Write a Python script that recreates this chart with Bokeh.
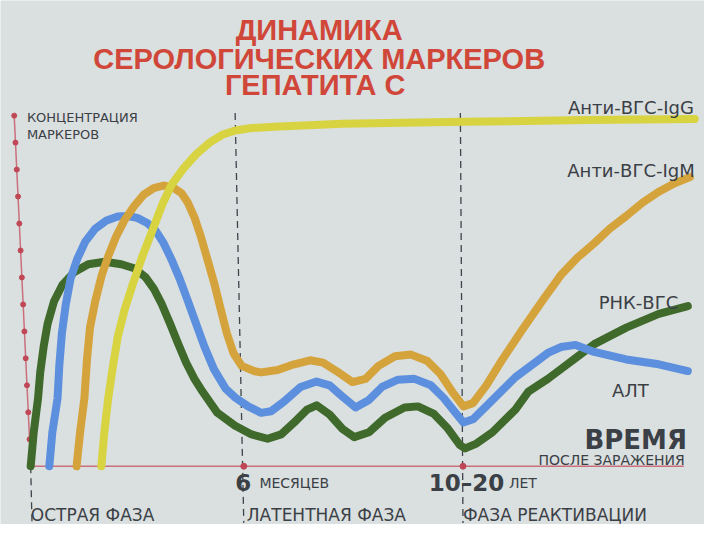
from bokeh.plotting import figure
from bokeh.models import Range1d, Label
from bokeh.embed import file_html
from bokeh.resources import INLINE

# Time axis in arbitrary units: 0 = infection, ~49 = 6 months, 100 = 10-20 years
# Concentration axis in tick units (0..13)

# Anti-HCV IgG (yellow)
igg_t = [16.5, 17.2, 18.1, 19.2, 20.3, 21.8, 23.7, 26.0, 28.6, 30.7, 32.7, 35.4, 38.4, 41.4, 44.4, 47.4, 51.2,
         56.4, 72.2, 100.0, 128.7, 153.5]
igg_c = [0.0, 1.26, 2.52, 3.72, 4.80, 5.76, 6.72, 7.79, 8.87, 9.75, 10.43, 11.03, 11.57, 11.99, 12.29, 12.45, 12.54,
         12.59, 12.70, 12.77, 12.84, 12.88]

# Anti-HCV IgM (orange)
igm_t = [10.8, 11.6, 12.6, 13.2, 13.9, 15.1, 16.6, 18.1, 19.9, 21.8, 24.1, 26.3, 28.6, 30.9, 33.1, 35.0, 36.5,
         38.0, 39.5, 41.0, 42.5, 44.0, 45.5, 47.0, 48.9, 51.9, 53.4, 57.2, 61.0, 64.7, 67.7, 70.7, 74.5, 77.5,
         80.5, 84.3, 88.0, 91.8, 94.8, 97.8, 100.1, 102.3, 105.4, 109.1, 113.6, 118.7, 122.6, 126.4, 130.3,
         133.9, 137.7, 141.5, 145.2, 149.0, 152.4]
igm_c = [0.0, 1.26, 2.52, 3.96, 5.15, 6.12, 7.08, 7.79, 8.51, 9.11, 9.65, 10.07, 10.31, 10.41, 10.33, 10.13, 9.77,
         9.23, 8.51, 7.67, 6.83, 5.87, 4.92, 4.20, 3.72, 3.52, 3.48, 3.57, 3.78, 3.93, 3.84, 3.54, 3.12, 3.24,
         3.72, 4.08, 4.14, 3.90, 3.42, 2.70, 2.22, 2.34, 3.00, 3.96, 5.04, 6.22, 7.09, 7.73, 8.27,
         8.81, 9.28, 9.78, 10.18, 10.50, 10.72]

# ALT (blue)
alt_t = [4.5, 5.2, 6.4, 6.8, 7.4, 8.3, 9.4, 10.9, 12.8, 15.1, 17.7, 20.3, 22.6, 24.8, 27.1, 29.0, 30.9, 32.7,
         34.6, 36.5, 38.4, 40.3, 42.5, 45.2, 47.4, 50.4, 53.4, 55.7, 58.7, 62.5, 66.2, 69.2, 72.2, 75.2, 78.3,
         81.3, 85.0, 88.8, 92.6, 95.6, 98.6, 100.1, 102.3, 106.1, 112.1, 116.6, 119.6, 122.6, 126.0, 130.3,
         137.7, 145.2, 151.9]
alt_c = [0.0, 1.26, 2.52, 3.72, 4.92, 6.00, 6.95, 7.67, 8.33, 8.81, 9.11, 9.26, 9.28, 9.21, 9.02, 8.75, 8.27, 7.67,
         6.95, 6.12, 5.28, 4.44, 3.60, 2.88, 2.55, 2.22, 1.98, 2.04, 2.40, 2.94, 3.14, 3.00, 2.58, 2.18, 2.46,
         2.94, 3.21, 3.24, 3.00, 2.52, 1.92, 1.62, 1.74, 2.34, 3.30, 3.84, 4.20, 4.42, 4.50, 4.24,
         3.96, 3.78, 3.53]

# HCV RNA (green)
rna_t = [0.2, 0.9, 1.9, 2.4, 3.2, 4.1, 5.6, 7.5, 10.2, 13.5, 17.3, 21.1, 24.1, 26.7, 28.6, 30.5, 32.4, 34.2,
         36.1, 38.0, 39.9, 43.3, 47.4, 51.2, 54.9, 58.0, 61.0, 64.0, 66.2, 69.2, 72.2, 74.9, 78.3, 82.0, 86.5,
         89.6, 93.3, 96.3, 99.3, 100.5, 103.1, 106.8, 112.1, 115.1, 119.6, 122.6, 126.4, 130.3, 137.7, 145.2,
         151.9]
rna_c = [0.0, 1.26, 2.52, 3.48, 4.44, 5.28, 6.12, 6.72, 7.19, 7.49, 7.58, 7.49, 7.34, 7.01, 6.59, 6.00, 5.28, 4.56,
         3.84, 3.24, 2.76, 1.98, 1.50, 1.18, 1.02, 1.18, 1.62, 2.10, 2.26, 1.92, 1.38, 1.08, 1.26, 1.80, 2.18,
         2.22, 1.94, 1.44, 0.78, 0.66, 0.84, 1.26, 2.10, 2.77, 3.24, 3.60, 4.06, 4.53, 5.14, 5.65,
         5.94]

tick_levels = list(range(0, 14))
phase_bounds = [0.2, 49.4, 100.0]

title_lines = ["ДИНАМИКА", "СЕРОЛОГИЧЕСКИХ МАРКЕРОВ", "ГЕПАТИТА  С"]
series_names = ["Анти-ВГС-IgG", "Анти-ВГС-IgM", "РНК-ВГС", "АЛТ"]
phase_names = ["ОСТРАЯ ФАЗА", "ЛАТЕНТНАЯ ФАЗА", "ФАЗА РЕАКТИВАЦИИ"]

BG = "#dadfdf"
RED = "#d0473a"
INK = "#3a4046"
AXIS = "#c9707c"

p = figure(width=704, height=524, x_range=Range1d(-6.77, 155.76), y_range=Range1d(-2.16, 17.27),
           output_backend="svg", toolbar_location=None, min_border=0,
           x_axis_location=None, y_axis_location=None)
p.grid.visible = False
p.outline_line_color = None
p.background_fill_color = BG
p.border_fill_color = BG

# hand-drawn slanted concentration axis with dotted ticks
axis_t = [0.23 - 0.295 * c for c in tick_levels]
p.line(axis_t, tick_levels, line_color=AXIS, line_width=1.5)
p.scatter(axis_t, tick_levels, size=5, color="#c04856")

# time baseline
p.line([0.2, 151.0], [0, 0], line_color=AXIS, line_width=1.5)

# phase boundary dashed lines
p.segment(x0=[47.4, 99.4], y0=[13.1, 13.1], x1=[49.4, 100.0], y1=[-2.1, -2.1],
          line_color="#3c444c", line_width=1.3, line_dash="7 5")
p.segment(x0=[0.2], y0=[0], x1=[0.5], y1=[-2.1], line_color="#3c444c", line_width=1.3, line_dash="7 5")
p.scatter(phase_bounds, [0, 0, 0], size=6, color="#c04856")

# curves
lw = 8
p.line(rna_t, rna_c, line_color="#3f6a2c", line_width=lw, line_join="round", line_cap="round")
p.line(alt_t, alt_c, line_color="#5c8fdd", line_width=lw, line_join="round", line_cap="round")
p.line(igm_t, igm_c, line_color="#d5a33b", line_width=lw, line_join="round", line_cap="round")
p.line(igg_t, igg_c, line_color="#d8d340", line_width=lw, line_join="round", line_cap="round")

def lab(x, y, text, size, font="DejaVu Sans", color=INK, align="left", style="normal"):
    p.add_layout(Label(x=x, y=y, text=text, text_font=font, text_font_size=size,
                       text_color=color, text_align=align, text_baseline="alphabetic",
                       text_font_style=style))

# title
for yy, line in zip([16.19, 15.11, 14.14], title_lines):
    lab(66.8, yy, line, "29px", font="Liberation Sans", color=RED, align="center", style="bold")

# y axis caption
lab(-0.68, 12.95, "КОНЦЕНТРАЦИЯ", "13px")
lab(-0.68, 12.30, "МАРКЕРОВ", "13px")

# series labels
for (xx, yy), name in zip([(153.3, 13.31), (153.5, 10.97), (149.7, 6.08), (142.9, 2.81)], series_names):
    lab(xx, yy, name, "18px", align="right")

# time caption
lab(151.7, 0.97, "ВРЕМЯ", "26px", align="right", style="bold")
lab(151.2, 0.25, "ПОСЛЕ ЗАРАЖЕНИЯ", "14px", align="right")

# time markers
lab(47.4, -0.61, "6", "23px", style="bold")
lab(53.0, -0.61, "МЕСЯЦЕВ", "14px")
lab(92.1, -0.61, "10–20", "23px", style="bold")
lab(110.6, -0.61, "ЛЕТ", "14px")

# phase names
for xx, name in zip([0.23, 50.1, 100.0], phase_names):
    lab(xx, -1.80, name, "17px")

open("out.html", "w").write(file_html(p, INLINE))
